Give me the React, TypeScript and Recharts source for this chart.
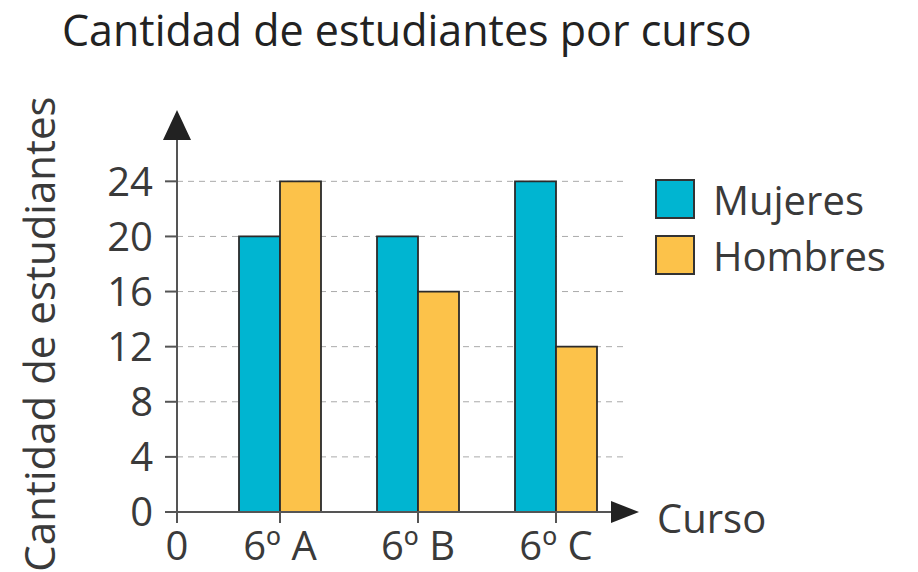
// App.tsx — grouped bar chart: students per class (Recharts)
import { BarChart, Bar, XAxis, YAxis, CartesianGrid, Legend, Label } from "recharts";

const cursos = ["6º A", "6º B", "6º C"];
const mujeres = [20, 20, 24];
const hombres = [24, 16, 12];
const yTicks = [0, 4, 8, 12, 16, 20, 24];
const gridValues = [4, 8, 12, 16, 20, 24];

const series = [
    { key: "mujeres", name: "Mujeres", color: "#00b5d1" },
    { key: "hombres", name: "Hombres", color: "#fcc24a" },
];

const data = cursos.map((curso, i) => ({ curso, mujeres: mujeres[i], hombres: hombres[i] }));

const FONT = "'Open Sans', sans-serif";
const TEXT = "#3a3a3a";
const AXIS = "#555";

const XEnd = (props: any) => {
    const vb = props.viewBox;
    if (!vb) return null;
    const x0 = vb.x;
    const y = vb.y;
    const xe = vb.x + vb.width;
    return (
        <g>
            <line x1={x0} y1={y} x2={x0} y2={y + 11} stroke={AXIS} strokeWidth={2} />
            <text x={x0} y={y + 48} textAnchor="middle" fontSize={40} fill={TEXT} fontFamily={FONT}>0</text>
            <polygon points={`${xe - 16},${y - 11} ${xe + 12},${y} ${xe - 16},${y + 11}`} fill="#222" />
            <text x={xe + 30} y={y + 21} fontSize={40} fill={TEXT} fontFamily={FONT}>Curso</text>
        </g>
    );
};

const YTop = (props: any) => {
    const vb = props.viewBox;
    if (!vb) return null;
    const x = vb.x + vb.width;
    const y = vb.y;
    return (
        <g>
            <polygon points={`${x - 14},${y} ${x},${y - 30} ${x + 14},${y}`} fill="#222" />
            <text
                transform={`translate(${vb.x + 55}, ${vb.y + vb.height / 2 + 8}) rotate(-90)`}
                textAnchor="middle"
                fontSize={42}
                fill={TEXT}
                fontFamily={FONT}
            >
                Cantidad de estudiantes
            </text>
        </g>
    );
};

const LegendBox = () => (
    <div style={{ fontFamily: FONT }}>
        {series.map((s) => (
            <div key={s.key} style={{ display: "flex", alignItems: "center", height: 56 }}>
                <div style={{ width: 36, height: 36, background: s.color, border: "2px solid #333", boxSizing: "content-box" }} />
                <span style={{ marginLeft: 18, fontSize: 40, color: TEXT }}>{s.name}</span>
            </div>
        ))}
    </div>
);

export default function App() {
    return (
        <div style={{ position: "absolute", left: 0, top: 0, width: 918, height: 572, background: "#fff" }}>
            <div
                style={{
                    position: "absolute", left: 62, top: 0, fontSize: 43, fontWeight: 500, color: "#222",
                    fontFamily: FONT, whiteSpace: "nowrap",
                }}
            >
                Cantidad de estudiantes por curso
            </div>
            <BarChart
                width={918}
                height={572}
                data={data}
                barSize={41}
                barGap={0}
                margin={{ top: 140, right: 291, left: 0, bottom: 0 }}
            >
                <CartesianGrid vertical={false} horizontalValues={gridValues} stroke="#aaa" strokeDasharray="6 5" />
                <XAxis
                    dataKey="curso"
                    padding={{ left: 34, right: 2 }}
                    height={60}
                    stroke={AXIS}
                    strokeWidth={2}
                    tickSize={11}
                    tickMargin={9}
                    tick={{ fontSize: 40, fill: TEXT, fontFamily: FONT }}
                >
                    <Label content={<XEnd />} />
                </XAxis>
                <YAxis
                    domain={[0, 27]}
                    ticks={yTicks}
                    interval={0}
                    width={177}
                    stroke={AXIS}
                    strokeWidth={2}
                    tickSize={12}
                    tickMargin={12}
                    tick={{ fontSize: 40, fill: TEXT, fontFamily: FONT }}
                >
                    <Label content={<YTop />} />
                </YAxis>
                <Legend
                    layout="vertical"
                    align="center"
                    verticalAlign="middle"
                    content={<LegendBox />}
                    wrapperStyle={{ position: "absolute", left: 655, top: 171, width: 260 }}
                />
                {series.map((s) => (
                    <Bar
                        key={s.key}
                        dataKey={s.key}
                        name={s.name}
                        fill={s.color}
                        stroke="#2b2b2b"
                        strokeWidth={1.8}
                        isAnimationActive={false}
                    />
                ))}
            </BarChart>
        </div>
    );
}
